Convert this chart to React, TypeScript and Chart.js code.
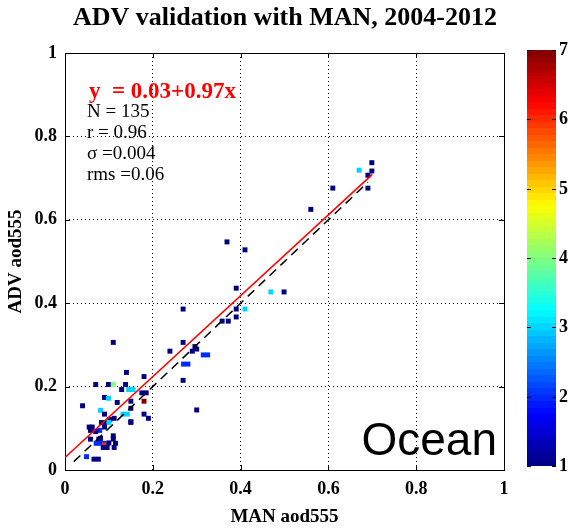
import React, { useEffect, useRef } from "react";
import { Chart, registerables } from "chart.js";

Chart.register(...registerables);

// ---- data ----
const manX = [
  0.140, 0.070, 0.099, 0.110, 0.138, 0.129, 0.145, 0.155, 0.090, 0.099,
  0.119, 0.040, 0.081, 0.090, 0.132, 0.142, 0.112, 0.102, 0.083, 0.093,
  0.100, 0.150, 0.055, 0.062, 0.090, 0.079, 0.058, 0.070, 0.058, 0.077,
  0.110, 0.110, 0.071, 0.080, 0.089, 0.090, 0.081, 0.100, 0.115, 0.112,
  0.087, 0.096, 0.066, 0.076, 0.049, 0.110, 0.180, 0.175, 0.185, 0.180,
  0.150, 0.150, 0.180, 0.190, 0.150, 0.300, 0.239, 0.269, 0.296, 0.290,
  0.300, 0.315, 0.325, 0.270, 0.280, 0.269, 0.269, 0.358, 0.372, 0.390,
  0.390, 0.410, 0.390, 0.369, 0.410, 0.469, 0.499, 0.560, 0.610, 0.670,
  0.699, 0.699, 0.690, 0.690,
];
const advY = [
  0.234, 0.205, 0.205, 0.205, 0.205, 0.193, 0.193, 0.193, 0.174, 0.172,
  0.162, 0.154, 0.143, 0.134, 0.134, 0.134, 0.124, 0.121, 0.114, 0.114,
  0.114, 0.114, 0.103, 0.103, 0.103, 0.095, 0.095, 0.092, 0.074, 0.074,
  0.082, 0.074, 0.064, 0.064, 0.064, 0.060, 0.076, 0.065, 0.064, 0.054,
  0.054, 0.054, 0.026, 0.026, 0.032, 0.306, 0.224, 0.185, 0.185, 0.165,
  0.165, 0.148, 0.134, 0.124, 0.116, 0.144, 0.285, 0.306, 0.296, 0.285,
  0.290, 0.276, 0.276, 0.254, 0.254, 0.215, 0.386, 0.357, 0.357, 0.367,
  0.386, 0.386, 0.436, 0.547, 0.528, 0.427, 0.427, 0.625, 0.676, 0.719,
  0.737, 0.717, 0.707, 0.676,
];
const counts = [
  1, 1, 1, 4, 1, 1, 3, 3, 1, 3,
  1, 1, 3, 1, 3, 3, 1, 1, 1, 1,
  3, 1, 1, 1, 1, 2, 1, 1, 1, 1,
  1, 1, 2, 2, 2, 6, 1, 1, 1, 1,
  1, 1, 1, 1, 2, 1, 1, 1, 1, 7,
  1, 1, 1, 1, 1, 1, 1, 1, 1, 1,
  1, 2, 2, 2, 2, 1, 1, 1, 1, 1,
  1, 3, 1, 1, 1, 3, 1, 1, 1, 3,
  1, 1, 1, 1,
];
const axisTicks = [0, 0.2, 0.4, 0.6, 0.8, 1];
const colorTicks = [1, 2, 3, 4, 5, 6, 7];
const colorMin = 1;
const colorMax = 7;
const fitIntercept = 0.03;
const fitSlope = 0.97;
const fitRange = [0, 0.7];
const oneToOneRange = [0.02, 0.69];
const chartTitle = "ADV validation with MAN, 2004-2012";
const xTitle = "MAN aod555";
const yTitle = "ADV aod555";
const fitLabel = "y  = 0.03+0.97x";
const statLines = ["N = 135", "r = 0.96", "\u03c3 =0.004", "rms =0.06"];
const regionLabel = "Ocean";

const SERIF = '"Liberation Serif", "Times New Roman", serif';
const SANS = '"Liberation Sans", Arial, sans-serif';

function jet(t: number): string {
  const c = (v: number) => Math.max(0, Math.min(1, v));
  const r = c(1.5 - Math.abs(4 * t - 3));
  const g = c(1.5 - Math.abs(4 * t - 2));
  const b = c(1.5 - Math.abs(4 * t - 1));
  return `rgb(${Math.round(r * 255)},${Math.round(g * 255)},${Math.round(b * 255)})`;
}
const valueColor = (v: number) => jet((v - colorMin) / (colorMax - colorMin));

const decorPlugin = {
  id: "decor",
  beforeDatasetsDraw(chart: any) {
    const { ctx, chartArea } = chart;
    const { left, top, right, bottom } = chartArea;
    ctx.save();
    ctx.strokeStyle = "#000";
    ctx.lineWidth = 1;
    ctx.strokeRect(Math.round(left) + 0.5, Math.round(top) + 0.5, Math.round(right - left), Math.round(bottom - top));
    const xs = chart.scales.x;
    const ys = chart.scales.y;
    ctx.beginPath();
    axisTicks.forEach((v) => {
      const px = Math.round(xs.getPixelForValue(v)) + 0.5;
      ctx.moveTo(px, bottom);
      ctx.lineTo(px, bottom - 5);
      ctx.moveTo(px, top);
      ctx.lineTo(px, top + 5);
      const py = Math.round(ys.getPixelForValue(v)) + 0.5;
      ctx.moveTo(left, py);
      ctx.lineTo(left + 5, py);
      ctx.moveTo(right, py);
      ctx.lineTo(right - 5, py);
    });
    ctx.stroke();
    ctx.restore();
  },
  afterDatasetsDraw(chart: any) {
    const { ctx } = chart;
    ctx.save();
    ctx.textBaseline = "middle";
    ctx.textAlign = "left";
    ctx.fillStyle = "#ff0000";
    ctx.font = `bold 23px ${SERIF}`;
    ctx.fillText(fitLabel, 89, 92);
    ctx.fillStyle = "#000";
    ctx.font = `19px ${SERIF}`;
    statLines.forEach((s, i) => ctx.fillText(s, 87, 112 + i * 21));
    ctx.font = `46px ${SANS}`;
    ctx.textAlign = "right";
    ctx.textBaseline = "alphabetic";
    ctx.fillText(regionLabel, 497, 455);
    ctx.restore();
  },
  afterDraw(chart: any) {
    const { ctx } = chart;
    const x0 = 527;
    const x1 = 556;
    const yTop = 50;
    const yBot = 466;
    const n = 64;
    ctx.save();
    for (let i = 0; i < n; i++) {
      const y1 = yBot - (i / n) * (yBot - yTop);
      const y2 = yBot - ((i + 1) / n) * (yBot - yTop);
      ctx.fillStyle = jet((i + 0.5) / n);
      ctx.fillRect(x0, Math.floor(y2), x1 - x0, Math.ceil(y1) - Math.floor(y2));
    }
    ctx.strokeStyle = "#000";
    ctx.lineWidth = 1;
    ctx.fillStyle = "#000";
    ctx.font = `bold 18px ${SERIF}`;
    ctx.textAlign = "left";
    ctx.textBaseline = "middle";
    colorTicks.forEach((v) => {
      const y = Math.round(yBot - ((v - colorMin) / (colorMax - colorMin)) * (yBot - yTop)) + 0.5;
      ctx.beginPath();
      ctx.moveTo(x0, y);
      ctx.lineTo(x0 + 4, y);
      ctx.moveTo(x1, y);
      ctx.lineTo(x1 - 4, y);
      ctx.stroke();
      ctx.fillText(String(v), x1 + 3, y);
    });
    ctx.restore();
  },
};

export default function App() {
  const ref = useRef<HTMLCanvasElement | null>(null);
  useEffect(() => {
    if (!ref.current) return;
    const points = manX.map((x, i) => ({ x, y: advY[i] }));
    const fitData = fitRange.map((x) => ({ x, y: fitIntercept + fitSlope * x }));
    const oneData = oneToOneRange.map((x) => ({ x, y: x }));
    const tickFont = { family: SERIF, size: 18, weight: "bold" as const };
    const chart = new Chart(ref.current, {
      type: "scatter",
      data: {
        datasets: [
          {
            label: "fit",
            data: fitData,
            showLine: true,
            borderColor: "#ff0000",
            borderWidth: 1.6,
            pointRadius: 0,
          } as any,
          {
            label: "1:1",
            data: oneData,
            showLine: true,
            borderColor: "#000",
            borderWidth: 1.5,
            borderDash: [9, 6],
            pointRadius: 0,
          } as any,
          {
            label: "points",
            data: points,
            pointStyle: "rect",
            pointRadius: 3.5,
            pointBackgroundColor: counts.map(valueColor),
            pointBorderWidth: 0,
            borderWidth: 0,
            showLine: false,
          } as any,
        ],
      },
      options: {
        animation: false,
        responsive: false,
        layout: { padding: 0 },
        plugins: {
          legend: { display: false },
          tooltip: { enabled: false },
          title: {
            display: true,
            text: chartTitle,
            color: "#000",
            font: { family: SERIF, size: 26, weight: "bold" },
            padding: { top: 3, bottom: 18.8 },
          },
        },
        scales: {
          x: {
            type: "linear",
            min: 0,
            max: 1,
            afterBuildTicks: (s: any) => {
              s.ticks = axisTicks.map((v) => ({ value: v }));
            },
            afterFit: (s: any) => {
              s.height = 58;
            },
            ticks: {
              color: "#000",
              font: tickFont,
              padding: 9,
              maxRotation: 0,
              callback: (v: any) => String(v),
            },
            grid: { color: "#000", lineWidth: 1, drawTicks: false },
            border: { display: false, dash: [1, 3] },
            title: {
              display: true,
              text: xTitle,
              color: "#000",
              font: { family: SERIF, size: 19, weight: "bold" },
              padding: { top: 0, bottom: 0 },
            },
          },
          y: {
            type: "linear",
            min: 0,
            max: 1,
            afterBuildTicks: (s: any) => {
              s.ticks = axisTicks.map((v) => ({ value: v }));
            },
            afterFit: (s: any) => {
              s.width = 65;
            },
            ticks: {
              color: "#000",
              font: tickFont,
              padding: 8,
              callback: (v: any) => String(v),
            },
            grid: { color: "#000", lineWidth: 1, drawTicks: false },
            border: { display: false, dash: [1, 3] },
            title: {
              display: true,
              text: yTitle,
              color: "#000",
              font: { family: SERIF, size: 19, weight: "bold" },
              padding: { top: 5, bottom: 0 },
            },
          },
          colorbarSpace: {
            type: "linear",
            position: "right",
            display: true,
            min: colorMin,
            max: colorMax,
            afterFit: (s: any) => {
              s.width = 66;
            },
            ticks: { display: false },
            grid: { display: false, drawTicks: false },
            border: { display: false },
          },
        },
      } as any,
      plugins: [decorPlugin],
    });
    return () => chart.destroy();
  }, []);

  return (
    <div style={{ position: "absolute", left: 0, top: 0, width: 570, height: 528, background: "#fff" }}>
      <canvas ref={ref} width={570} height={528} style={{ width: 570, height: 528, display: "block" }} />
    </div>
  );
}
